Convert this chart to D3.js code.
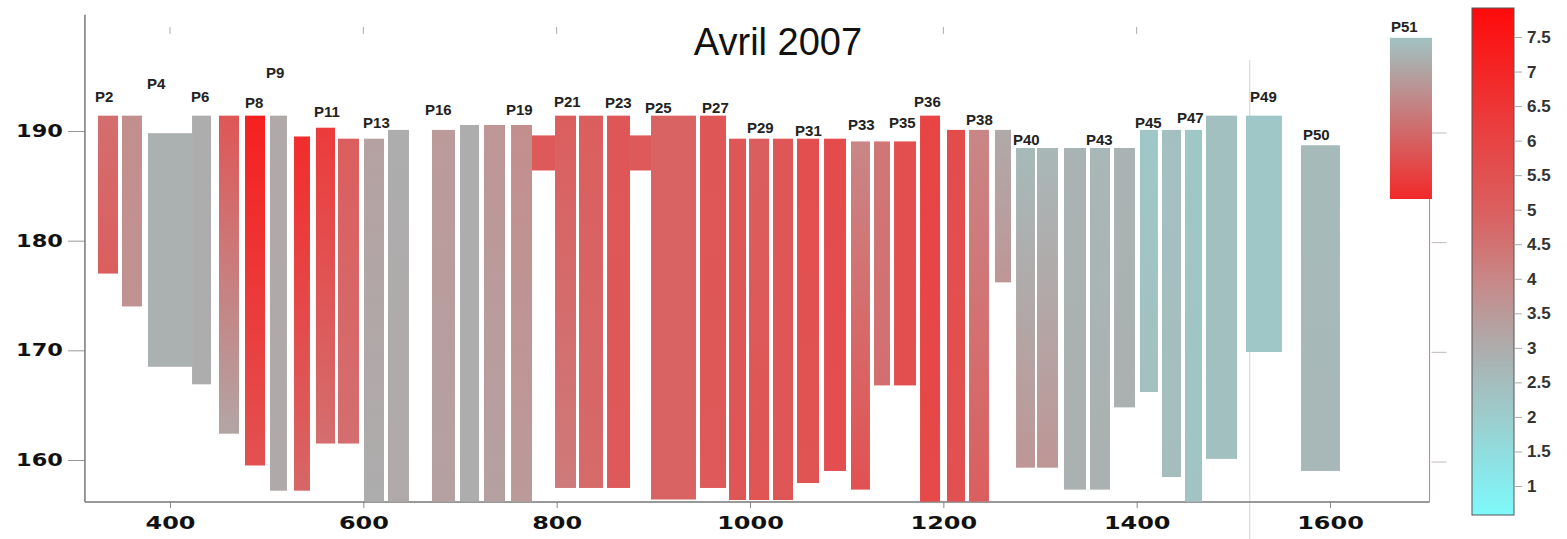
<!DOCTYPE html>
<html>
<head>
<meta charset="utf-8">
<script src="https://cdn.jsdelivr.net/npm/d3@7"></script>
<style>
  body { margin: 0; background: #fff; }
</style>
</head>
<body>
<svg id="chart" width="1567" height="539"></svg>
<script>
// bar extents along the x axis (data units)
const barLeft = [325.5, 350.3, 377.2, 422.8, 450.7, 477.6, 503.4, 528.3, 551.0, 573.8, 600.7, 625.5, 671.0, 700.0, 724.8, 752.8, 774.5, 798.3, 823.1, 852.1, 875.9, 897.6, 948.3, 978.3, 999.0, 1023.8, 1048.6, 1076.6, 1104.5, 1128.3, 1149.0, 1175.9, 1203.8, 1226.6, 1253.4, 1275.2, 1296.9, 1324.8, 1351.7, 1376.6, 1403.4, 1426.2, 1450.0, 1471.7, 1513.1, 1570.0, 1662.0];
const barRight = [346.2, 371.0, 422.8, 442.4, 471.4, 498.3, 521.0, 544.8, 570.7, 595.5, 621.4, 647.2, 694.8, 719.7, 746.6, 774.5, 798.3, 820.0, 847.9, 875.9, 897.6, 944.1, 975.2, 995.9, 1019.7, 1044.5, 1071.4, 1099.3, 1124.1, 1144.8, 1171.7, 1196.6, 1222.4, 1247.2, 1270.0, 1294.8, 1318.6, 1347.6, 1372.4, 1398.3, 1422.0, 1445.9, 1467.6, 1503.8, 1550.3, 1610.3, 1705.5];
// top and bottom of each bar (y units)
const barTop = [191.4, 191.4, 189.8, 191.4, 191.4, 191.4, 191.4, 189.5, 190.3, 189.3, 189.3, 190.1, 190.1, 190.55, 190.55, 190.55, 189.6, 191.4, 191.4, 191.4, 189.6, 191.4, 191.4, 189.3, 189.3, 189.3, 189.3, 189.3, 189.05, 189.05, 189.05, 191.4, 190.1, 190.1, 190.1, 188.45, 188.45, 188.45, 188.45, 188.45, 190.1, 190.1, 190.1, 191.4, 191.4, 188.7, 198.5];
const barBottom = [177.0, 174.0, 168.5, 166.9, 162.4, 159.5, 157.2, 157.2, 161.5, 161.5, 156.2, 156.2, 156.2, 156.2, 156.2, 156.2, 186.4, 157.45, 157.45, 157.45, 186.4, 156.4, 157.45, 156.35, 156.35, 156.35, 157.9, 159.0, 157.3, 166.8, 166.8, 156.2, 156.2, 156.2, 176.2, 159.3, 159.3, 157.3, 157.3, 164.8, 166.2, 158.45, 156.2, 160.1, 169.85, 159.0, 183.8];
// colour value at the top and at the bottom of each bar
const valueTop = [4.6, 3.8, 2.9, 3.0, 5.3, 7.2, 3.1, 6.8, 6.3, 5.0, 3.3, 3.0, 3.5, 3.0, 3.6, 3.8, 5.2, 5.0, 5.0, 5.3, 5.2, 4.9, 5.3, 5.3, 5.0, 5.3, 5.6, 5.7, 4.0, 4.4, 5.6, 6.0, 5.7, 4.0, 3.1, 2.6, 2.7, 2.8, 2.7, 2.8, 2.2, 2.4, 2.2, 2.4, 2.2, 2.6, 2.3];
const valueBottom = [5.0, 3.7, 2.9, 3.0, 3.2, 5.5, 3.1, 4.8, 4.6, 4.6, 3.0, 3.1, 3.3, 3.0, 3.3, 3.5, 5.2, 4.3, 4.7, 5.2, 5.2, 4.9, 5.2, 5.3, 5.4, 5.3, 5.4, 5.6, 5.5, 4.6, 5.6, 5.8, 5.5, 5.0, 3.6, 3.6, 3.6, 2.9, 2.9, 2.9, 2.4, 2.5, 2.3, 2.4, 2.2, 2.7, 6.9];

const labelNames = ["P2", "P4", "P6", "P8", "P9", "P11", "P13", "P16", "P19", "P21", "P23", "P25", "P27", "P29", "P31", "P33", "P35", "P36", "P38", "P40", "P43", "P45", "P47", "P49", "P50", "P51"];
const labelX = [322.4, 376.2, 421.7, 477.6, 499.3, 549.0, 599.7, 663.8, 747.6, 797.2, 850.0, 891.4, 950.4, 996.9, 1046.6, 1101.4, 1143.8, 1169.7, 1223.5, 1272.1, 1347.6, 1398.3, 1441.7, 1517.3, 1572.1, 1663.1];
const labelY = [192.64, 193.83, 192.64, 192.10, 194.83, 191.28, 190.27, 191.46, 191.46, 192.19, 192.10, 191.64, 191.64, 189.82, 189.54, 190.09, 190.27, 192.19, 190.55, 188.72, 188.72, 190.27, 190.73, 192.64, 189.18, 199.03];

const xTicks = [400, 600, 800, 1000, 1200, 1400, 1600];
const yTicks = [160, 170, 180, 190];
const colorTicks = [1, 1.5, 2, 2.5, 3, 3.5, 4, 4.5, 5, 5.5, 6, 6.5, 7, 7.5];
const colorRange = [0.58, 7.92];
const title = "Avril 2007";

const svg = d3.select("#chart");
const arial = "'Liberation Sans', Arial, sans-serif";
const heavy = "'DejaVu Sans', sans-serif";

const x = d3.scaleLinear().domain([400, 1600]).range([170, 1330]);
const y = d3.scaleLinear().domain([160, 190]).range([460, 131]);
const xMin = 312, xMax = 1703;
const yMin = 156.17, yMax = 200.6;

const color = d3.scaleLinear()
  .domain([0.58, 1, 2, 3, 4, 5, 6, 7.92])
  .range(["#7ef9fa", "#86ecee", "#9ccdcd", "#adadad", "#c98686", "#db5e5e", "#e84444", "#ff0a0a"]);

const defs = svg.append("defs");

// stray vertical line from the scanned original
svg.append("line")
  .attr("x1", x(1517)).attr("x2", x(1517))
  .attr("y1", 60).attr("y2", 539)
  .attr("stroke", "#d4d4d4").attr("stroke-width", 1);

// left axis
const yAxis = svg.append("g")
  .attr("transform", `translate(${x(xMin)},0)`)
  .call(d3.axisLeft(y).tickValues(yTicks).tickSize(17).tickSizeOuter(0).tickFormat(d3.format("d")));
yAxis.select(".domain").remove();
yAxis.selectAll(".tick line").attr("stroke", "#999");
yAxis.selectAll(".tick text")
  .attr("x", -22 / 1.32)
  .attr("transform", "scale(1.32,1)")
  .attr("font-family", heavy)
  .attr("font-size", 17)
  .attr("font-weight", "bold")
  .attr("fill", "#111");
svg.append("line")
  .attr("x1", x(xMin)).attr("x2", x(xMin))
  .attr("y1", y(yMax)).attr("y2", y(yMin))
  .attr("stroke", "#777").attr("stroke-width", 1.5);

// bottom axis
const xAxis = svg.append("g")
  .attr("transform", `translate(0,${y(yMin)})`)
  .call(d3.axisBottom(x).tickValues(xTicks).tickSize(6).tickSizeOuter(0).tickFormat(d3.format("d")));
xAxis.select(".domain").remove();
xAxis.selectAll(".tick line").attr("stroke", "#888");
xAxis.selectAll(".tick text")
  .attr("y", 27).attr("dy", 0)
  .attr("transform", "scale(1.33,1)")
  .attr("font-family", heavy)
  .attr("font-size", 18)
  .attr("font-weight", "bold")
  .attr("fill", "#111");
svg.append("line")
  .attr("x1", x(xMin)).attr("x2", x(xMax))
  .attr("y1", y(yMin)).attr("y2", y(yMin))
  .attr("stroke", "#777").attr("stroke-width", 1.5);

// faint top ticks
svg.selectAll(".topTick")
  .data([400, 600, 800, 1200, 1400])
  .join("line")
  .attr("x1", d => x(d)).attr("x2", d => x(d))
  .attr("y1", 27).attr("y2", 34)
  .attr("stroke", "#aaa");

// right axis
svg.append("line")
  .attr("x1", x(xMax)).attr("x2", x(xMax))
  .attr("y1", y(184)).attr("y2", y(yMin))
  .attr("stroke", "#e07474").attr("stroke-width", 1);
svg.selectAll(".rightTick")
  .data(yTicks)
  .join("line")
  .attr("x1", x(xMax) + 2).attr("x2", x(xMax) + 17)
  .attr("y1", d => y(d) + 2).attr("y2", d => y(d) + 2)
  .attr("stroke", "#bbb");

// bars
const bars = barLeft.map((l, i) => ({
  l, r: barRight[i], t: barTop[i], b: barBottom[i], ct: valueTop[i], cb: valueBottom[i]
}));

bars.forEach((d, i) => {
  const g = defs.append("linearGradient")
    .attr("id", "bg" + i)
    .attr("x1", 0).attr("y1", 0).attr("x2", 0).attr("y2", 1);
  g.append("stop").attr("offset", 0).attr("stop-color", color(d.ct));
  g.append("stop").attr("offset", 1).attr("stop-color", color(d.cb));
});

svg.append("g").selectAll("rect")
  .data(bars)
  .join("rect")
  .attr("x", d => x(d.l))
  .attr("y", d => y(d.t))
  .attr("width", d => x(d.r) - x(d.l))
  .attr("height", d => y(d.b) - y(d.t))
  .attr("fill", (d, i) => `url(#bg${i})`);

// bar labels
svg.append("g").selectAll("text")
  .data(labelNames)
  .join("text")
  .attr("x", (d, i) => x(labelX[i]))
  .attr("y", (d, i) => y(labelY[i]))
  .attr("font-family", arial)
  .attr("font-size", 15)
  .attr("font-weight", "bold")
  .attr("fill", "#222")
  .text(d => d);

// title
svg.append("text")
  .attr("x", 778).attr("y", 55)
  .attr("text-anchor", "middle")
  .attr("font-family", arial)
  .attr("font-size", 38)
  .attr("fill", "#111")
  .text(title);

// colour bar
const cy = d3.scaleLinear().domain(colorRange).range([515, 8]);
const cg = defs.append("linearGradient")
  .attr("id", "cbar")
  .attr("x1", 0).attr("y1", 1).attr("x2", 0).attr("y2", 0);
d3.range(0, 1.0001, 0.05).forEach(t => {
  const v = colorRange[0] + t * (colorRange[1] - colorRange[0]);
  cg.append("stop").attr("offset", t).attr("stop-color", color(v));
});
svg.append("rect")
  .attr("x", 1472).attr("y", cy(colorRange[1]))
  .attr("width", 42).attr("height", cy(colorRange[0]) - cy(colorRange[1]))
  .attr("fill", "url(#cbar)")
  .attr("stroke", "#555").attr("stroke-width", 1);

// labels of the colour bar are cut off on the right, as in the original
defs.append("clipPath").attr("id", "cclip")
  .append("rect").attr("x", -10).attr("y", 0).attr("width", 58).attr("height", 539);

const cAxis = svg.append("g")
  .attr("transform", "translate(1514,0)")
  .attr("clip-path", "url(#cclip)")
  .call(d3.axisRight(cy).tickValues(colorTicks).tickSize(8).tickSizeOuter(0).tickFormat(d => d));
cAxis.select(".domain").remove();
cAxis.selectAll(".tick line").attr("stroke", "#aaa");
cAxis.selectAll(".tick text")
  .attr("x", 13)
  .attr("font-family", arial)
  .attr("font-size", 17)
  .attr("font-weight", "bold")
  .attr("fill", "#333");
</script>
</body>
</html>
